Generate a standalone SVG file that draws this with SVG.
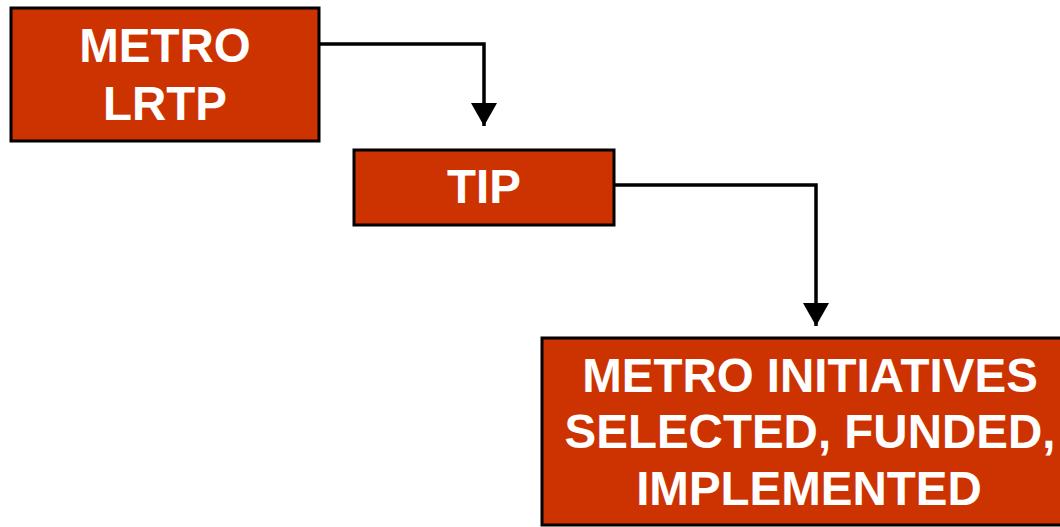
<svg xmlns="http://www.w3.org/2000/svg" width="1060" height="527" viewBox="0 0 1060 527">
<style>
.box{fill:#cc3300;stroke:#000;stroke-width:3}
.lbl{font-family:"Liberation Sans",Arial,sans-serif;font-weight:bold;font-size:47.5px;fill:#fff;text-anchor:middle}
.conn{fill:none;stroke:#000;stroke-width:3.5}
</style>
<defs>
<marker id="ah" markerUnits="userSpaceOnUse" markerWidth="26" markerHeight="26" refX="23" refY="13" orient="auto">
<path d="M0,0 L23,13 L0,26 Z" fill="#000"/>
</marker>
</defs>
<rect width="1060" height="527" fill="#fff"/>
<g id="connectors">
<path class="conn" d="M319,44 H484 V126" marker-end="url(#ah)"/>
<path class="conn" d="M614,185 H816 V326" marker-end="url(#ah)"/>
</g>
<g id="node-lrtp">
<rect class="box" x="11" y="8" width="308" height="133"/>
<text class="lbl" x="165" y="62">METRO</text>
<text class="lbl" x="165" y="120">LRTP</text>
</g>
<g id="node-tip">
<rect class="box" x="354" y="150" width="260" height="75"/>
<text class="lbl" x="484" y="203">TIP</text>
</g>
<g id="node-initiatives">
<rect class="box" x="542" y="338" width="540" height="187"/>
<text class="lbl" x="810" y="392">METRO INITIATIVES</text>
<text class="lbl" x="810" y="448">SELECTED, FUNDED,</text>
<text class="lbl" x="809" y="505">IMPLEMENTED</text>
</g>
</svg>
